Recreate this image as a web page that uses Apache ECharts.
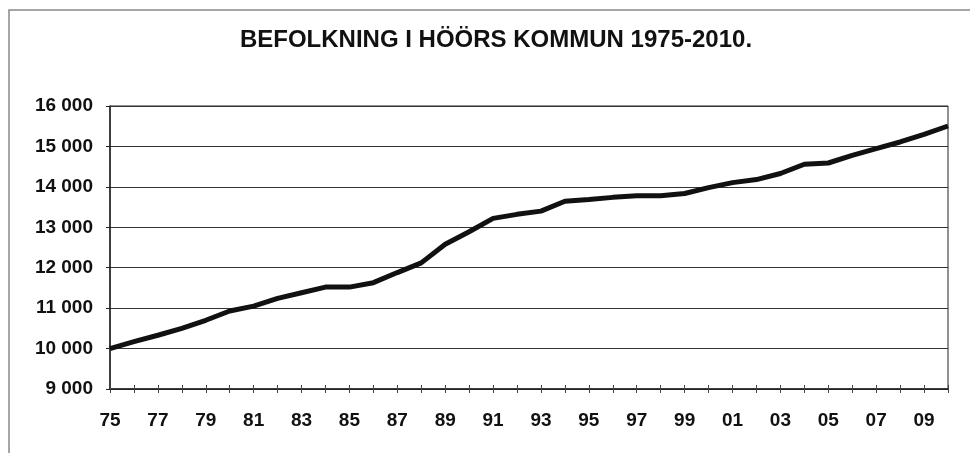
<!DOCTYPE html>
<html>
<head>
<meta charset="utf-8">
<script src="https://cdn.jsdelivr.net/npm/echarts@6/dist/echarts.min.js"></script>
<style>
    html, body { margin: 0; padding: 0; background: #fff; }
    #chart { width: 970px; height: 453px; }
</style>
</head>
<body>
<div id="chart"></div>
<script>
// years 1975-2010, shown as two digits
const years = ['75', '76', '77', '78', '79', '80', '81', '82', '83', '84',
    '85', '86', '87', '88', '89', '90', '91', '92', '93', '94',
    '95', '96', '97', '98', '99', '00', '01', '02', '03', '04',
    '05', '06', '07', '08', '09', '10'];

// befolkning per år
const population = [10000, 10170, 10330, 10500, 10700, 10930, 11050, 11240, 11380, 11520,
    11520, 11630, 11880, 12120, 12580, 12890, 13220, 13320, 13400, 13645,
    13690, 13740, 13780, 13780, 13835, 13980, 14105, 14180, 14330, 14560,
    14590, 14780, 14945, 15110, 15300, 15505];

const titleText = 'BEFOLKNING I HÖÖRS KOMMUN 1975-2010.';

const fontFam = 'Liberation Sans, Arial, sans-serif';

let option = {
    animation: false,
    title: {
        text: titleText,
        left: 496,
        textAlign: 'center',
        top: 28,
        padding: 0,
        textStyle: {
            fontFamily: fontFam,
            fontSize: 24,
            fontWeight: 'bold',
            color: '#111'
        }
    },
    graphic: [{
        type: 'rect',
        shape: {x: 9, y: 10, width: 980, height: 460},
        style: {fill: 'none', stroke: '#888', lineWidth: 1.5},
        silent: true
    }],
    grid: {
        left: 110,
        right: 22,
        top: 106,
        bottom: 64,
        show: true,
        borderColor: '#222',
        borderWidth: 1
    },
    xAxis: [{
        type: 'category',
        data: years,
        boundaryGap: false,
        axisLine: {lineStyle: {color: '#222', width: 1.5}},
        axisTick: {show: true, interval: 0, length: 4, lineStyle: {color: '#444'}},
        axisLabel: {
            interval: 1,
            margin: 22,
            fontFamily: fontFam,
            fontSize: 19,
            fontWeight: 'bold',
            color: '#111'
        },
        splitLine: {show: false}
    }, {
        // inside ticks so they cross the axis line
        type: 'category',
        data: years,
        position: 'bottom',
        boundaryGap: false,
        axisLine: {show: false},
        axisTick: {show: true, inside: true, interval: 0, length: 4, lineStyle: {color: '#444'}},
        axisLabel: {show: false}
    }],
    yAxis: {
        type: 'value',
        min: 9000,
        max: 16000,
        interval: 1000,
        axisLine: {show: true, lineStyle: {color: '#222', width: 1.5}},
        axisTick: {show: true, length: 4, lineStyle: {color: '#222'}},
        axisLabel: {
            margin: 17,
            fontFamily: fontFam,
            fontSize: 19,
            fontWeight: 'bold',
            color: '#111',
            formatter: function (v) {
                return String(v).replace(/\B(?=(\d{3})+(?!\d))/g, ' ');
            }
        },
        splitLine: {lineStyle: {color: '#333', width: 1}}
    },
    series: [{
        name: 'Befolkning',
        type: 'line',
        data: population,
        symbol: 'none',
        smooth: false,
        lineStyle: {color: '#111', width: 5}
    }]
};

let myChart = echarts.init(document.getElementById('chart'));
myChart.setOption(option);
</script>
</body>
</html>
